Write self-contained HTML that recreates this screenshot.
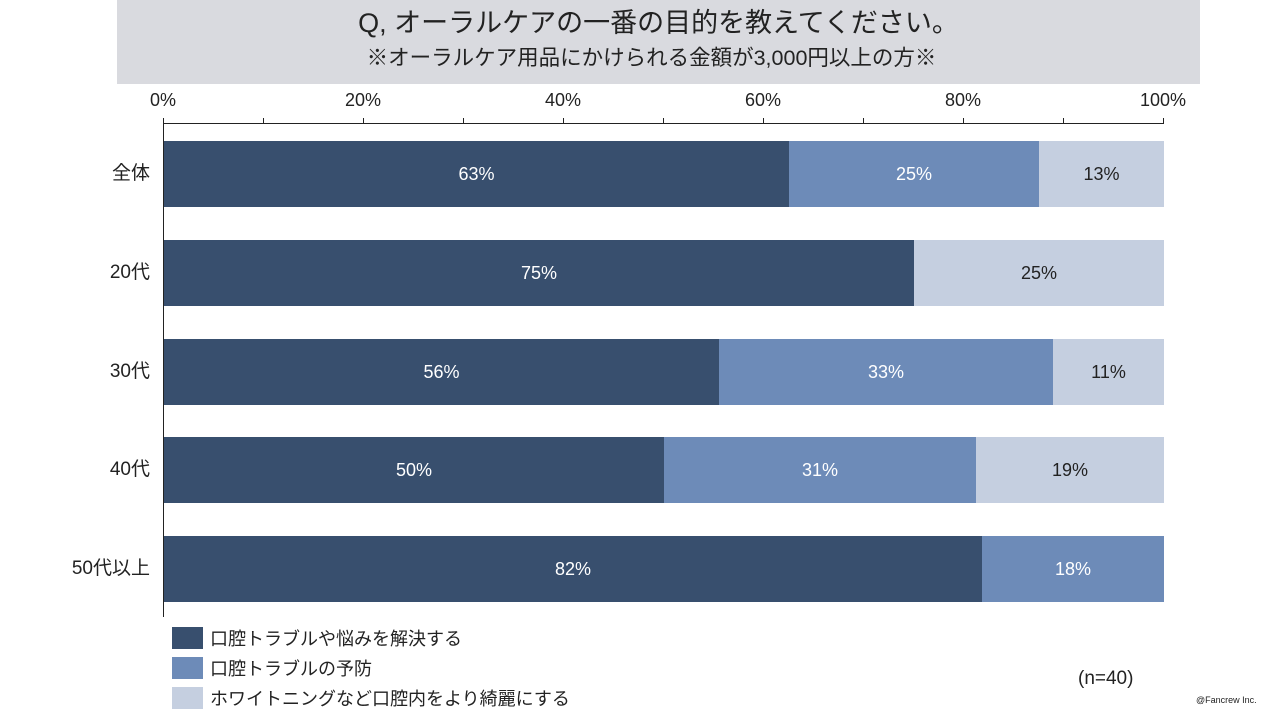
<!DOCTYPE html>
<html><head><meta charset="utf-8"><style>
body{margin:0;width:1280px;height:720px;background:#fff;position:relative;overflow:hidden;font-family:"Liberation Sans","Noto Sans CJK JP",sans-serif;color:#222}
.a{position:absolute}
.hdr{left:117px;top:0;width:1083px;height:84px;background:#d9dadf}
.t1{left:117px;width:1083px;top:5px;text-align:center;font-size:27px;line-height:36px}
.t2{left:110px;width:1083px;top:44px;text-align:center;font-size:21.5px;line-height:28px}
.tk{font-size:18px;top:90px;width:80px;text-align:center}
.bar{height:66px;color:#fff;font-size:18px;line-height:66px;text-align:center}
.d{background:#384f6e}.m{background:#6d8bb8}.l{background:#c5cfe0;color:#222}
.cat{font-size:19px;width:140px;text-align:right;left:10px;line-height:66px}
.lg{left:172px;width:31px;height:22px}
.lt{left:210px;font-size:18px;line-height:22px}
</style></head><body>
<div class="a hdr"></div>
<div class="a t1">Q, オーラルケアの一番の目的を教えてください。</div>
<div class="a t2">※オーラルケア用品にかけられる金額が3,000円以上の方※</div>
<div class="a tk" style="left:123px">0%</div>
<div class="a tk" style="left:323px">20%</div>
<div class="a tk" style="left:523px">40%</div>
<div class="a tk" style="left:723px">60%</div>
<div class="a tk" style="left:923px">80%</div>
<div class="a tk" style="left:1123px">100%</div>
<div class="a" style="left:163px;top:123px;width:1001px;height:1px;background:#222"></div>
<div class="a" style="left:163px;top:118px;width:1px;height:499px;background:#222"></div>
<div class="a" style="left:263px;top:118px;width:1px;height:6px;background:#222"></div>
<div class="a" style="left:363px;top:118px;width:1px;height:6px;background:#222"></div>
<div class="a" style="left:463px;top:118px;width:1px;height:6px;background:#222"></div>
<div class="a" style="left:563px;top:118px;width:1px;height:6px;background:#222"></div>
<div class="a" style="left:663px;top:118px;width:1px;height:6px;background:#222"></div>
<div class="a" style="left:763px;top:118px;width:1px;height:6px;background:#222"></div>
<div class="a" style="left:863px;top:118px;width:1px;height:6px;background:#222"></div>
<div class="a" style="left:963px;top:118px;width:1px;height:6px;background:#222"></div>
<div class="a" style="left:1063px;top:118px;width:1px;height:6px;background:#222"></div>
<div class="a" style="left:1163px;top:118px;width:1px;height:6px;background:#222"></div>

<div class="a cat" style="top:141px">全体</div>
<div class="a bar d" style="left:164px;top:141px;width:625px">63%</div>
<div class="a bar m" style="left:789px;top:141px;width:250px">25%</div>
<div class="a bar l" style="left:1039px;top:141px;width:125px">13%</div>

<div class="a cat" style="top:240px">20代</div>
<div class="a bar d" style="left:164px;top:240px;width:750px">75%</div>
<div class="a bar l" style="left:914px;top:240px;width:250px">25%</div>

<div class="a cat" style="top:339px">30代</div>
<div class="a bar d" style="left:164px;top:339px;width:555px">56%</div>
<div class="a bar m" style="left:719px;top:339px;width:334px">33%</div>
<div class="a bar l" style="left:1053px;top:339px;width:111px">11%</div>

<div class="a cat" style="top:437px">40代</div>
<div class="a bar d" style="left:164px;top:437px;width:500px">50%</div>
<div class="a bar m" style="left:664px;top:437px;width:312px">31%</div>
<div class="a bar l" style="left:976px;top:437px;width:188px">19%</div>

<div class="a cat" style="top:536px">50代以上</div>
<div class="a bar d" style="left:164px;top:536px;width:818px">82%</div>
<div class="a bar m" style="left:982px;top:536px;width:182px">18%</div>

<div class="a lg d" style="top:627px"></div><div class="a lt" style="top:628px">口腔トラブルや悩みを解決する</div>
<div class="a lg m" style="top:657px"></div><div class="a lt" style="top:658px">口腔トラブルの予防</div>
<div class="a lg l" style="top:687px"></div><div class="a lt" style="top:688px">ホワイトニングなど口腔内をより綺麗にする</div>
<div class="a" style="left:1078px;top:668px;font-size:19px">(n=40)</div>
<div class="a" style="left:1196px;top:695px;font-size:9px">@Fancrew Inc.</div>
</body></html>
